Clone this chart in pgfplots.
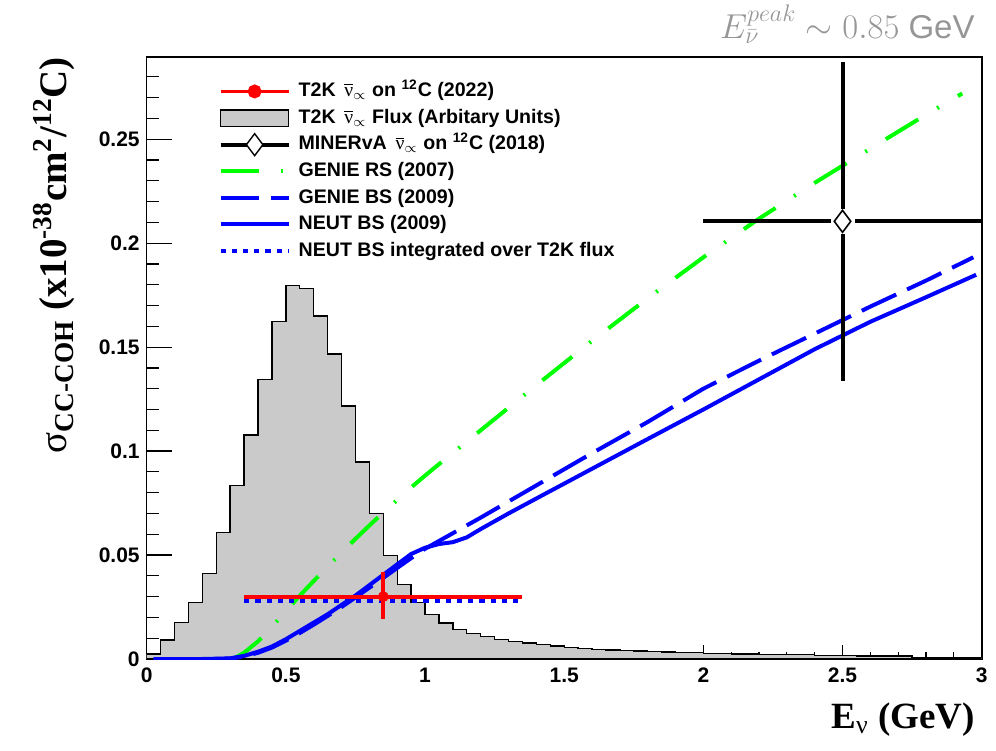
\documentclass[border=0pt]{standalone}
\usepackage{fontspec}
\setmainfont{Liberation Sans}
\newfontfamily\lserif{Liberation Serif}
\usepackage{pgfplots}
\pgfplotsset{compat=1.18}
\definecolor{histgray}{RGB}{202,202,202}
\definecolor{rootgreen}{RGB}{0,255,0}
\definecolor{rootblue}{RGB}{0,0,255}
\definecolor{rootred}{RGB}{255,0,0}
\definecolor{annot}{RGB}{150,150,150}
\pgfplotsset{
  rootline/.style={legend image code/.code={\draw[mark repeat=2,mark phase=2] plot coordinates {(0pt,0pt) (17pt,0pt) (34pt,0pt)};}},
  common/.style={at={(0,0)}, anchor=south west, scale only axis, width=417.5pt, height=300.85pt,
    xmin=0, xmax=3, ymin=0, ymax=0.2894, axis line style={line width=0.8pt},
    tick pos=left, tick align=inside, tick style={black, line width=0.6pt}},
}
\begin{document}
\begin{tikzpicture}
\useasboundingbox (-73.35pt,-45.5pt) rectangle (424.65pt,329.5pt);
% axis carrying the y ticks
\begin{axis}[common,
  xtick=\empty,
  ytick={0,0.05,0.1,0.15,0.2,0.25}, yticklabels={0,0.05,0.1,0.15,0.2,0.25},
  minor ytick={0.01,0.02,0.03,0.04,0.06,0.07,0.08,0.09,0.11,0.12,0.13,0.14,0.16,0.17,0.18,0.19,0.21,0.22,0.23,0.24,0.26,0.27,0.28},
  major tick length=12.5pt, minor tick length=6.25pt,
  yticklabel style={font=\bfseries\fontsize{10.5}{12}\selectfont},
]
\addplot[draw=none, forget plot] coordinates {(0,0)};
\end{axis}
\begin{axis}[common, name=ax,
  ytick=\empty,
  xtick={0,0.5,1,1.5,2,2.5,3}, xticklabels={0,0.5,1,1.5,2,2.5,3},
  minor xtick={0.1,0.2,0.3,0.4,0.6,0.7,0.8,0.9,1.1,1.2,1.3,1.4,1.6,1.7,1.8,1.9,2.1,2.2,2.3,2.4,2.6,2.7,2.8,2.9},
  major tick length=7pt, minor tick length=3.5pt,
  xticklabel style={font=\bfseries\fontsize{10.5}{12}\selectfont, yshift=-1pt},
  xlabel={\lserif\bfseries E\textsubscript{\mdseries ν} (GeV)},
  every axis x label/.style={at={(axis description cs:1,-0.1147)}, anchor=base east, font=\fontsize{18.5}{22}\selectfont},
  ylabel={\lserif\bfseries {\mdseries σ}\textsubscript{CC-COH} (x10\textsuperscript{-38}cm\textsuperscript{2}/\textsuperscript{12}C)},
  every axis y label/.style={at={(axis description cs:-0.0955,1.012)}, anchor=base east, rotate=90, font=\fontsize{19.5}{24}\selectfont},
  legend style={at={(axis description cs:0.0852,0.966)}, anchor=north west, draw=none, fill=none, inner sep=0pt,
    font=\bfseries\fontsize{9.8}{11}\selectfont, row sep=0pt, column sep=0pt,
    nodes={inner ysep=1.75pt, inner xsep=3.8pt, text height=7.5pt, text depth=2.3pt}},
  legend cell align=left,
]
% legend entries
\addlegendimage{rootline, rootred, line width=1.9pt, mark=*, mark size=2.5pt}
\addlegendentry{T2K \,$\overline{\hbox{\lserif\mdseries ν}}_{\propto}$ on \textsuperscript{12}C (2022)}
\addlegendimage{legend image code/.code={\draw[fill=histgray, draw=black, line width=0.8pt] (0pt,-4.15pt) rectangle (34pt,4.15pt);}}
\addlegendentry{T2K \,$\overline{\hbox{\lserif\mdseries ν}}_{\propto}$ Flux (Arbitary Units)}
\addlegendimage{rootline, black, line width=2pt, mark=diamond*, mark size=5.5pt, mark options={fill=white, draw=black, line width=0.7pt, solid}}
\addlegendentry{MINERvA \,$\overline{\hbox{\lserif\mdseries ν}}_{\propto}$ on \textsuperscript{12}C (2018)}
\addlegendimage{rootline, rootgreen, line width=2pt, dash pattern=on 19pt off 11pt on 1pt off 11pt}
\addlegendentry{GENIE RS (2007)}
\addlegendimage{rootline, rootblue, line width=2pt, dash pattern=on 19pt off 6pt}
\addlegendentry{GENIE BS (2009)}
\addlegendimage{rootline, rootblue, line width=2pt}
\addlegendentry{NEUT BS (2009)}
\addlegendimage{rootline, rootblue, line width=2.4pt, dash pattern=on 2.6pt off 3pt}
\addlegendentry{NEUT BS integrated over T2K flux}

% T2K flux histogram (arbitrary units)
\addplot[const plot, fill=histgray, draw=black, line width=0.7pt, forget plot] coordinates {
(0.00,0.0025) (0.05,0.0092) (0.10,0.0177) (0.15,0.0271) (0.20,0.0412) (0.25,0.0608)
(0.30,0.0834) (0.35,0.1078) (0.40,0.1345) (0.45,0.1623) (0.50,0.1796) (0.55,0.1783)
(0.60,0.1650) (0.65,0.1467) (0.70,0.1217) (0.75,0.0948) (0.80,0.0701) (0.85,0.0497)
(0.90,0.0359) (0.95,0.0272) (1.00,0.0215) (1.05,0.0174) (1.10,0.0142) (1.15,0.0123)
(1.20,0.0108) (1.25,0.0093) (1.30,0.0084) (1.35,0.0077) (1.40,0.0069) (1.45,0.0062)
(1.50,0.0056) (1.55,0.0051) (1.60,0.0047) (1.65,0.0044) (1.70,0.0041) (1.75,0.0038)
(1.80,0.0035) (1.85,0.0033) (1.90,0.0030) (1.95,0.0030) (2.00,0.0027) (2.05,0.0027)
(2.10,0.0024) (2.15,0.0024) (2.20,0.0022) (2.25,0.0022) (2.30,0.0022) (2.35,0.0022)
(2.40,0.0018) (2.45,0.0018) (2.50,0.0018) (2.55,0.0014) (2.60,0.0014) (2.65,0.0014)
(2.70,0.0014) (2.75,0.0007) (2.80,0.0007) (2.85,0.0007) (2.90,0.0007) (2.95,0.0007) (3.00,0.0007)
} \closedcycle;

% GENIE RS (2007)
\addplot[rootgreen, line width=2pt, dash pattern=on 19pt off 11pt on 1pt off 11pt, forget plot] coordinates {
(0.30,0.0) (0.32,0.0008) (0.35,0.0030) (0.40,0.0085) (0.45,0.0155) (0.50,0.0230) (0.55,0.0305)
(0.60,0.0375) (0.65,0.0445) (0.70,0.0512) (0.75,0.0578) (0.80,0.0642) (0.85,0.0705) (0.90,0.0765)
(0.95,0.0825) (1.00,0.0882) (1.05,0.0937) (1.20,0.1100) (1.40,0.1317) (1.60,0.1530) (1.80,0.1735)
(2.00,0.1932) (2.20,0.2118) (2.40,0.2290) (2.60,0.2455) (2.80,0.2618) (2.93,0.2720)
};
% GENIE BS (2009)
\addplot[rootblue, line width=2pt, dash pattern=on 19pt off 6pt, forget plot] coordinates {
(0.025,0) (0.25,0.0) (0.30,0.0002) (0.35,0.0012) (0.40,0.0030) (0.45,0.0055) (0.50,0.0088)
(0.55,0.0125) (0.60,0.0165) (0.65,0.0207) (0.70,0.0250) (0.75,0.0296) (0.80,0.0343) (0.85,0.0390)
(0.90,0.0438) (0.95,0.0485) (1.00,0.0530) (1.10,0.0605) (1.20,0.0680) (1.40,0.0835) (1.60,0.0990)
(1.80,0.1140) (2.00,0.1300) (2.20,0.1435) (2.40,0.1565) (2.60,0.1695) (2.80,0.1820) (2.97,0.1932)
};
% NEUT BS (2009)
\addplot[rootblue, line width=2pt, forget plot] coordinates {
(0.025,0) (0.20,0.0) (0.30,0.0003) (0.35,0.0015) (0.40,0.0035) (0.45,0.0060) (0.50,0.0095)
(0.55,0.0135) (0.60,0.0175) (0.65,0.0215) (0.70,0.0260) (0.75,0.0305) (0.80,0.0355) (0.85,0.0405)
(0.90,0.0455) (0.95,0.0505) (1.00,0.0535) (1.05,0.0553) (1.10,0.0562) (1.15,0.0585) (1.20,0.0625)
(1.30,0.0700) (1.40,0.0772) (1.60,0.0915) (1.80,0.1058) (2.00,0.1200) (2.20,0.1345) (2.40,0.1490)
(2.60,0.1622) (2.80,0.1740) (2.98,0.1848)
};
% NEUT BS integrated over T2K flux
\addplot[rootblue, line width=2.4pt, dash pattern=on 2.6pt off 3pt, forget plot] coordinates {(0.35,0.028) (1.35,0.028)};

% MINERvA
\addplot[draw=none, mark=none, forget plot, error bars/.cd, x dir=both, y dir=both, x explicit, y explicit,
  error mark=none, error bar style={draw=black, line width=2pt}] coordinates {(2.5,0.2105) +- (0.5,0.0767)};
\addplot[only marks, mark=square*, mark size=5.8pt, mark options={fill=white, draw=white}, forget plot] coordinates {(2.5,0.2105)};
\addplot[only marks, mark=diamond*, mark size=5.5pt, mark options={fill=white, draw=black, line width=0.8pt}, forget plot] coordinates {(2.5,0.2105)};

% T2K 2022
\addplot[only marks, rootred, mark=*, mark size=2.5pt, forget plot, error bars/.cd, x dir=both, y dir=both, x explicit, y explicit,
  error mark=none, error bar style={draw=rootred, line width=1.9pt}] coordinates {(0.85,0.030) += (0.5,0.012) -= (0.5,0.011)};
\end{axis}
\node[anchor=base east, text=annot, inner sep=0pt, font=\fontsize{16.5}{19}\selectfont] at ([xshift=-3.35pt,yshift=9.4pt]ax.north east) {$E^{peak}_{\bar{\nu}}\sim0.85$ GeV};
\end{tikzpicture}
\end{document}
